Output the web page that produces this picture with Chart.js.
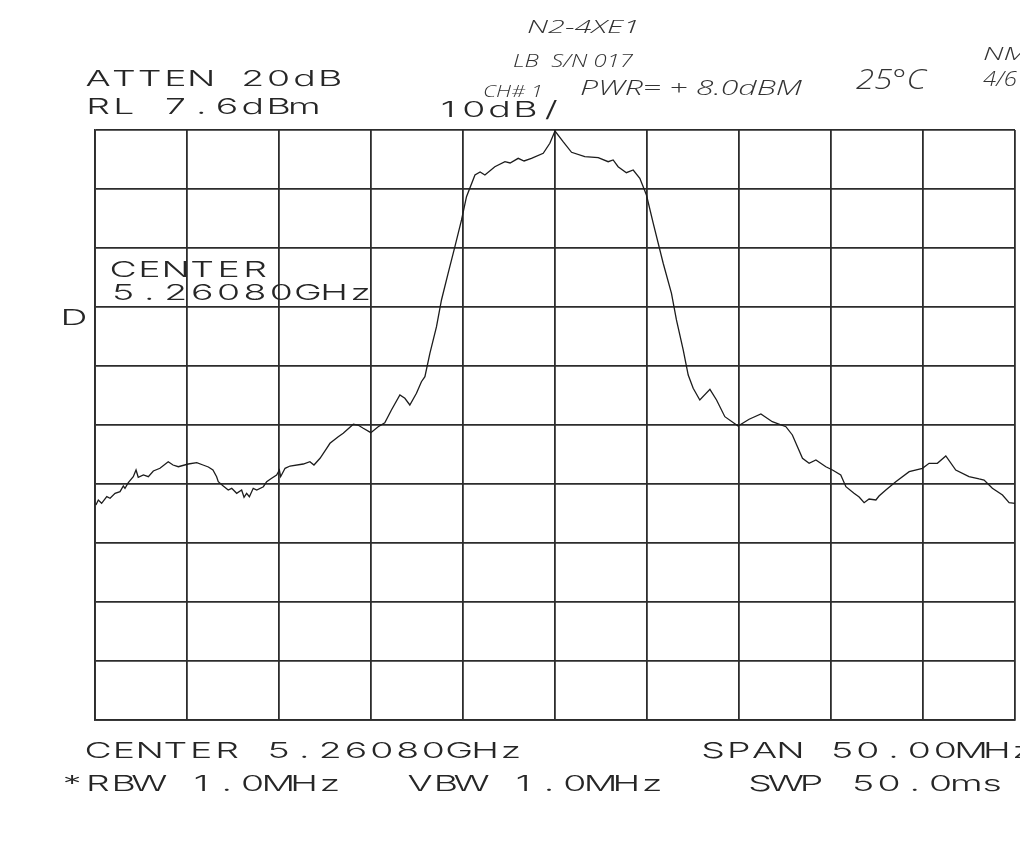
<!DOCTYPE html>
<html>
<head>
<meta charset="utf-8">
<script src="https://cdn.jsdelivr.net/npm/chart.js@4.4.1/dist/chart.umd.min.js"></script>
<style>
  html, body { margin: 0; padding: 0; background: #fff; }
  #specChart { display: block; }
</style>
</head>
<body>
<canvas id="specChart" width="1020" height="848"></canvas>
<script>
// offset from centre frequency (MHz) and trace level (dBm)
const freqMHz = [
  -24.95, -24.82, -24.64, -24.36, -24.18, -23.91, -23.64, -23.46, -23.37, -23.19,
  -22.92, -22.77, -22.65, -22.37, -22.10, -21.83, -21.47, -21.02, -20.76, -20.47,
  -19.93, -19.47, -19.13, -18.84, -18.59, -18.39, -18.30, -18.03, -17.76, -17.57,
  -17.30, -17.03, -16.90, -16.76, -16.61, -16.40, -16.21, -15.85, -15.67, -15.40,
  -15.13, -14.98, -14.91, -14.67, -14.40, -13.68, -13.32, -13.10, -12.77, -12.41,
  -12.23, -11.78, -11.51, -10.96, -10.71, -10.42,
  -10.01, -9.61, -9.25, -8.89, -8.43, -8.16, -7.89, -7.53, -7.26, -7.07,
  -6.80, -6.44, -6.17, -5.81, -5.44, -5.08, -4.81, -4.35, -4.07, -3.81,
  -3.27, -2.72, -2.44, -2.00, -1.68, -1.28, -0.64, -0.28,
  0.00,
  0.44, 0.90, 1.62, 2.35, 2.89, 3.16, 3.43, 3.88, 4.25, 4.61,
  4.97, 5.34, 5.88, 6.33, 6.60, 6.97, 7.24, 7.51, 7.87, 8.42,
  8.78, 9.23, 9.95,
  10.55, 11.19, 11.81, 12.55, 12.90, 13.45, 13.81, 14.18, 14.72, 15.08,
  15.53, 15.81, 16.25, 16.53, 16.80, 17.07, 17.44, 17.61, 17.98, 18.52,
  19.25, 19.97, 20.33, 20.78, 21.24, 21.78, 22.50, 23.05, 23.32, 23.77,
  24.32, 24.68, 25.00
];
const levelDbm = [
  -55.96, -55.11, -55.67, -54.55, -54.82, -53.98, -53.70, -52.74, -53.13, -52.18,
  -51.16, -50.03, -51.26, -50.87, -51.16, -50.20, -49.74, -48.62, -49.18, -49.47,
  -49.01, -48.79, -49.18, -49.52, -50.03, -51.16, -52.01, -52.74, -53.42, -53.13,
  -53.98, -53.42, -54.65, -53.98, -54.55, -53.13, -53.42, -52.86, -52.01, -51.43,
  -50.87, -50.03, -51.16, -49.74, -49.35, -49.01, -48.62, -49.18, -48.04, -46.35,
  -45.50, -44.38, -43.81, -42.28, -42.40, -42.96,
  -43.70, -42.69, -42.01, -39.86, -37.32, -37.87, -39.01, -37.03, -35.06, -34.21,
  -30.25, -25.74, -21.21, -16.69, -12.18, -7.65, -3.70, -0.03, 0.48, -0.03,
  1.38, 2.23, 2.01, 2.80, 2.35, 2.80, 3.65, 5.35,
  7.43,
  5.62, 3.82, 3.07, 2.91, 2.23, 2.52, 1.38, 0.36, 0.82, -0.59,
  -3.42, -8.21, -14.99, -20.08, -24.60, -29.69, -33.93, -36.18, -38.16, -36.35,
  -38.16, -40.99, -42.57,
  -41.43, -40.54, -41.84, -42.69, -44.09, -48.04, -48.89, -48.33, -49.47, -50.03,
  -50.87, -52.86, -53.98, -54.60, -55.57, -54.94, -55.11, -54.43, -53.42, -52.01,
  -50.31, -49.74, -48.89, -48.89, -47.65, -50.03, -51.16, -51.55, -51.72, -53.13,
  -54.26, -55.57, -55.67
];

const refLevel = 7.6;     // RL 7.6dBm
const dbPerDiv = 10;      // 10dB/
const spanMHz = 50;       // SPAN 50.00MHz
const divisions = 10;

const inkPlot = '#262626';
const inkHand = '#333';
const gridInk = '#2c2c2c';

// HP plotter style lettering: wide glyphs on a fixed pitch
function plotText(ctx, str, x, y, pitch) {
  ctx.save();
  ctx.font = '300 22px Inter';
  ctx.fillStyle = inkPlot;
  ctx.textAlign = 'center';
  ctx.textBaseline = 'alphabetic';
  for (let i = 0; i < str.length; i++) {
    const ch = str[i];
    if (ch === ' ') continue;
    ctx.save();
    ctx.translate(x + i * pitch + 10, y);
    ctx.scale(1.7, 1);
    ctx.fillText(ch, 0, 0);
    ctx.restore();
  }
  ctx.restore();
}

// pen notes written on the sheet
function handText(ctx, str, x, y, size, width) {
  ctx.save();
  ctx.font = `italic 300 ${size}px "Open Sans"`;
  ctx.fillStyle = inkHand;
  ctx.textBaseline = 'alphabetic';
  const w = ctx.measureText(str).width;
  ctx.translate(x, y);
  ctx.scale(width / w, 1);
  ctx.fillText(str, 0, 0);
  ctx.restore();
}

const sheetText = {
  id: 'sheetText',
  afterDraw(chart) {
    const ctx = chart.ctx;
    plotText(ctx, 'ATTEN 20dB', 88, 86, 25.8);
    plotText(ctx, 'RL 7.6dBm', 88, 114, 25.8);
    plotText(ctx, '10dB/', 438, 117, 25.8);
    plotText(ctx, 'CENTER', 113, 277, 26.4);
    plotText(ctx, '5.26080GHz', 113, 300, 26.4);
    plotText(ctx, 'D', 64, 325, 25.8);
    plotText(ctx, 'CENTER 5.26080GHz', 88, 758, 25.8);
    plotText(ctx, 'SPAN 50.00MHz', 703, 758, 25.8);
    plotText(ctx, '*RBW 1.0MHz', 62, 791, 25.8);
    plotText(ctx, 'VBW 1.0MHz', 410, 791, 25.8);
    plotText(ctx, 'SWP 50.0ms', 750, 791, 25.8);

    handText(ctx, 'N2-4XE1', 527, 33, 18, 113);
    handText(ctx, 'LB  S/N 017', 513, 67, 19, 120);
    handText(ctx, 'CH# 1', 483, 97, 17, 60);
    handText(ctx, 'PWR= + 8.0dBM', 580, 95, 21, 222);
    handText(ctx, '25°C', 856, 89, 27, 70);
    handText(ctx, 'NM', 983, 60, 18, 45);
    handText(ctx, '4/6', 983, 86, 21, 34);
  }
};

const ctx = document.getElementById('specChart').getContext('2d');

const specChart = new Chart(ctx, {
  type: 'line',
  data: {
    datasets: [{
      label: 'Trace',
      data: freqMHz.map((f, i) => ({ x: f, y: levelDbm[i] })),
      borderColor: '#1c1c1c',
      borderWidth: 1.3,
      pointRadius: 0,
      tension: 0,
      fill: false
    }]
  },
  options: {
    responsive: false,
    animation: false,
    layout: {
      padding: { left: 95, top: 130, right: 5, bottom: 128 }
    },
    plugins: {
      legend: { display: false },
      tooltip: { enabled: false }
    },
    scales: {
      x: {
        type: 'linear',
        min: -spanMHz / 2,
        max: spanMHz / 2,
        ticks: { display: false, stepSize: spanMHz / divisions },
        grid: { color: gridInk, lineWidth: 1.8, drawTicks: false },
        border: { color: gridInk, width: 1.8 }
      },
      y: {
        min: refLevel - divisions * dbPerDiv,
        max: refLevel,
        afterBuildTicks: (scale) => {
          scale.ticks = Array.from({ length: divisions + 1 }, (_, i) => ({ value: refLevel - i * dbPerDiv }));
        },
        ticks: { display: false },
        grid: { color: gridInk, lineWidth: 1.8, drawTicks: false },
        border: { color: gridInk, width: 1.8 }
      }
    }
  },
  plugins: [sheetText]
});
</script>
</body>
</html>
